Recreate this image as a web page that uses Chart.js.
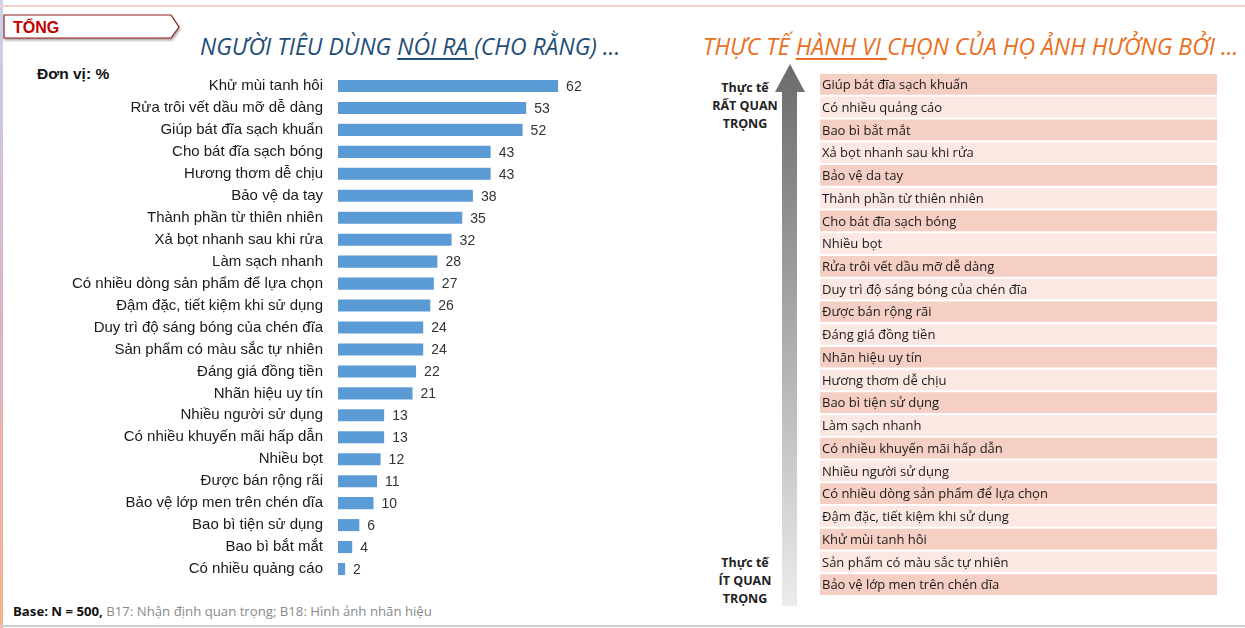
<!DOCTYPE html>
<html>
<head>
<meta charset="utf-8">
<script src="https://cdn.jsdelivr.net/npm/chart.js@4"></script>
<style>
  html, body { margin: 0; padding: 0; background: #fff; }
  body { width: 1245px; height: 628px; position: relative; overflow: hidden; font-family: "Liberation Sans", Arial, sans-serif; }
  .strip { position: absolute; left: 0; top: 0; width: 3px; height: 628px; background: linear-gradient(#c9d3e8, #ddb0c8 50%, #f4b48a); }
  .topline { position: absolute; left: 0; top: 5px; width: 1245px; height: 2px; background: #f3d2d2; }
  .botline { position: absolute; left: 0; top: 625px; width: 1245px; height: 2px; background: #cfcfcf; }
  .title { position: absolute; top: 30px; font-family: "Open Sans", sans-serif; font-style: italic; font-size: 23px; white-space: nowrap; }
  .t1 { left: 200px; color: #1f4e79; }
  .t2 { left: 703px; color: #e8701f; }
  .title u { text-underline-offset: 3px; }
  .unit { position: absolute; left: 37px; top: 65px; font-size: 15.5px; font-weight: bold; color: #111; }
  .side { position: absolute; width: 90px; left: 700px; text-align: center; font-family: "Open Sans", sans-serif; font-weight: bold; font-size: 12.5px; line-height: 18px; color: #222; }
  .base { position: absolute; left: 13px; top: 602px; font-family: "Open Sans", sans-serif; font-size: 13.2px; color: #8a8a8a; }
  .base b { color: #111; }
  #leftWrap { position: absolute; left: 0; top: 75px; width: 693px; height: 505px; }
  #rightWrap { position: absolute; left: 820px; top: 73px; width: 397px; height: 523px; }
  svg { position: absolute; left: 0; top: 0; }
</style>
</head>
<body>
<div class="strip"></div>
<div class="topline"></div>
<div class="botline"></div>

<svg width="1245" height="628">
  <defs>
    <linearGradient id="arrowGrad" x1="0" y1="0" x2="0" y2="1">
      <stop offset="0" stop-color="#6b6b6b"/>
      <stop offset="1" stop-color="#ececec"/>
    </linearGradient>
    <filter id="sh" x="-10%" y="-30%" width="130%" height="180%">
      <feDropShadow dx="1" dy="2" stdDeviation="1.2" flood-color="#000" flood-opacity="0.35"/>
    </filter>
  </defs>
  <polygon points="4,15 171,15 179,27 171,38 4,38" fill="#fff" stroke="#8c1d1d" stroke-width="1.2" filter="url(#sh)"/>
  <text x="13" y="33" font-family="Liberation Sans, Arial" font-weight="bold" font-size="16" fill="#c00000">TỔNG</text>
  <polygon points="790,64 805,92 797,92 797,606 782,606 782,92 775,92" fill="url(#arrowGrad)"/>
</svg>

<div class="title t1">NGƯỜI TIÊU DÙNG <u>NÓI RA </u>(CHO RẰNG) ...</div>
<div class="title t2">THỰC TẾ <u>HÀNH VI </u>CHỌN CỦA HỌ ẢNH HƯỞNG BỞI ...</div>
<div class="unit">Đơn vị: %</div>
<div class="side" style="top:79px">Thực tế<br>RẤT QUAN<br>TRỌNG</div>
<div class="side" style="top:554px">Thực tế<br>ÍT QUAN<br>TRỌNG</div>
<div class="base"><b>Base: N = 500,</b> B17: Nhận định quan trọng; B18: Hình ảnh nhãn hiệu</div>

<div id="leftWrap"><canvas id="saidChart"></canvas></div>
<div id="rightWrap"><canvas id="actualChart"></canvas></div>

<script>
// --- Datos: lo que dicen los consumidores (%) ---
const saidLabels = [
  'Khử mùi tanh hôi', 'Rửa trôi vết dầu mỡ dễ dàng', 'Giúp bát đĩa sạch khuẩn',
  'Cho bát đĩa sạch bóng', 'Hương thơm dễ chịu', 'Bảo vệ da tay',
  'Thành phần từ thiên nhiên', 'Xả bọt nhanh sau khi rửa', 'Làm sạch nhanh',
  'Có nhiều dòng sản phẩm để lựa chọn', 'Đậm đặc, tiết kiệm khi sử dụng',
  'Duy trì độ sáng bóng của chén đĩa', 'Sản phẩm có màu sắc tự nhiên',
  'Đáng giá đồng tiền', 'Nhãn hiệu uy tín', 'Nhiều người sử dụng',
  'Có nhiều khuyến mãi hấp dẫn', 'Nhiều bọt', 'Được bán rộng rãi',
  'Bảo vệ lớp men trên chén dĩa', 'Bao bì tiện sử dụng', 'Bao bì bắt mắt',
  'Có nhiều quảng cáo'
];
const saidValues = [62, 53, 52, 43, 43, 38, 35, 32, 28, 27, 26, 24, 24, 22, 21, 13, 13, 12, 11, 10, 6, 4, 2];

// --- Datos: orden real de importancia (de más a menos) ---
const actualLabels = [
  'Giúp bát đĩa sạch khuẩn', 'Có nhiều quảng cáo', 'Bao bì bắt mắt',
  'Xả bọt nhanh sau khi rửa', 'Bảo vệ da tay', 'Thành phần từ thiên nhiên',
  'Cho bát đĩa sạch bóng', 'Nhiều bọt', 'Rửa trôi vết dầu mỡ dễ dàng',
  'Duy trì độ sáng bóng của chén đĩa', 'Được bán rộng rãi', 'Đáng giá đồng tiền',
  'Nhãn hiệu uy tín', 'Hương thơm dễ chịu', 'Bao bì tiện sử dụng',
  'Làm sạch nhanh', 'Có nhiều khuyến mãi hấp dẫn', 'Nhiều người sử dụng',
  'Có nhiều dòng sản phẩm để lựa chọn', 'Đậm đặc, tiết kiệm khi sử dụng',
  'Khử mùi tanh hôi', 'Sản phẩm có màu sắc tự nhiên', 'Bảo vệ lớp men trên chén dĩa'
];
const actualFill = actualLabels.map(() => 1);

const AXIS_RIGHT = 338;

// Etiquetas de valor al final de cada barra
const valueLabels = {
  id: 'valueLabels',
  afterDatasetsDraw(chart) {
    const { ctx } = chart;
    const meta = chart.getDatasetMeta(0);
    ctx.save();
    ctx.font = '14px "Liberation Sans", Arial, sans-serif';
    ctx.fillStyle = '#333';
    ctx.textBaseline = 'middle';
    meta.data.forEach((bar, i) => {
      ctx.fillText(saidValues[i], bar.x + 8, bar.y + 1);
    });
    ctx.restore();
  }
};

new Chart(document.getElementById('saidChart'), {
  type: 'bar',
  data: {
    labels: saidLabels,
    datasets: [{
      data: saidValues,
      backgroundColor: '#5b9bd5',
      barPercentage: 0.55,
      categoryPercentage: 1
    }]
  },
  options: {
    indexAxis: 'y',
    responsive: true,
    maintainAspectRatio: false,
    animation: false,
    layout: { padding: 0 },
    plugins: { legend: { display: false }, tooltip: { enabled: false } },
    scales: {
      x: { display: false, min: 0, max: 100 },
      y: {
        grid: { display: false, drawTicks: false },
        border: { display: false },
        afterFit: (scale) => {
          scale.width = AXIS_RIGHT;
          scale.paddingTop = 0;
          scale.paddingBottom = 0;
        },
        ticks: {
          padding: 15,
          autoSkip: false,
          color: '#1a1a1a',
          font: { family: '"Liberation Sans", Arial, sans-serif', size: 15 }
        }
      }
    }
  },
  plugins: [valueLabels]
});

// Texto dentro de cada fila del listado derecho
const rowText = {
  id: 'rowText',
  afterDatasetsDraw(chart) {
    const { ctx } = chart;
    const meta = chart.getDatasetMeta(0);
    ctx.save();
    ctx.font = '13px "Open Sans", sans-serif';
    ctx.fillStyle = '#1a1a1a';
    ctx.textBaseline = 'middle';
    meta.data.forEach((bar, i) => {
      ctx.fillText(actualLabels[i], chart.chartArea.left + 2, bar.y + 1);
    });
    ctx.restore();
  }
};

new Chart(document.getElementById('actualChart'), {
  type: 'bar',
  data: {
    labels: actualLabels,
    datasets: [{
      data: actualFill,
      backgroundColor: actualLabels.map((_, i) => i % 2 === 0 ? '#f5cfc4' : '#fce8e3'),
      barPercentage: 1,
      categoryPercentage: 0.91
    }]
  },
  options: {
    indexAxis: 'y',
    responsive: true,
    maintainAspectRatio: false,
    animation: false,
    layout: { padding: 0 },
    plugins: { legend: { display: false }, tooltip: { enabled: false } },
    scales: {
      x: { display: false, min: 0, max: 1 },
      y: { display: false }
    }
  },
  plugins: [rowText]
});
</script>
</body>
</html>
